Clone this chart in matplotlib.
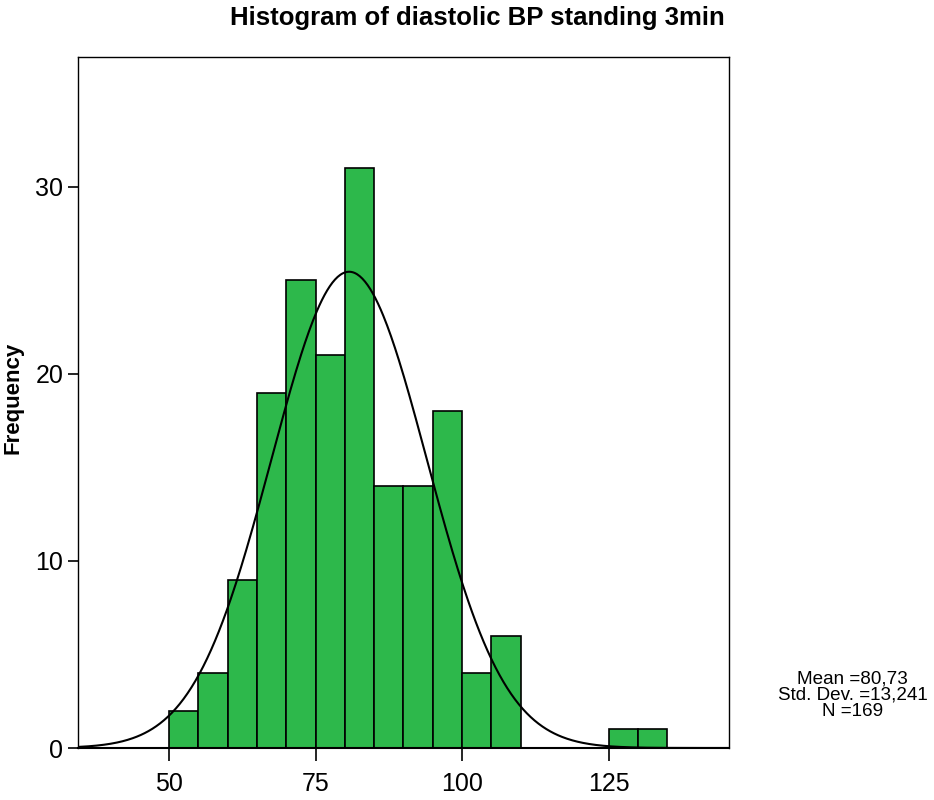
import numpy as np
import matplotlib
matplotlib.use("Agg")
import matplotlib.pyplot as plt

plt.rcParams['font.family'] = ['Liberation Sans', 'DejaVu Sans']

bin_edges = [50, 55, 60, 65, 70, 75, 80, 85, 90, 95, 100, 105, 110, 115, 120, 125, 130, 135]
counts = [2, 4, 9, 19, 25, 21, 31, 14, 14, 18, 4, 6, 0, 0, 0, 1, 1]
mean = 80.73
std = 13.241
n = 169
bin_width = 5
xticks = [50, 75, 100, 125]
yticks = [0, 10, 20, 30]

fig = plt.figure(figsize=(9.34, 8), dpi=100)
ax = fig.add_axes([0.0835, 0.065, 0.697, 0.864])

left = np.array(bin_edges[:-1])
heights = np.array(counts)
mask = heights > 0
ax.bar(left[mask], heights[mask], width=bin_width, align='edge',
       color='#2db84b', edgecolor='black', linewidth=1.2, zorder=2)

# normal curve scaled to counts
xs = np.linspace(34.5, 145.5, 500)
ys = n * bin_width / (std * np.sqrt(2 * np.pi)) * np.exp(-0.5 * ((xs - mean) / std) ** 2)
ax.plot(xs, ys, color='black', linewidth=1.5, zorder=3)

ax.set_xlim(34.5, 145.5)
ax.set_ylim(0, 36.95)
ax.set_xticks(xticks)
ax.set_yticks(yticks)
ax.tick_params(axis='x', direction='out', length=9, width=1.2, labelsize=18, pad=8)
ax.tick_params(axis='y', direction='out', length=7.5, width=1.2, labelsize=18, pad=3)
for s in ax.spines.values():
    s.set_linewidth(1)
ax.spines['bottom'].set_linewidth(1.5)

fig.text(0.014, 0.503, 'Frequency', rotation=90, ha='center', va='center',
         fontsize=16, fontweight='bold')
fig.text(0.511, 0.978, 'Histogram of diastolic BP standing 3min', ha='center', va='center',
         fontsize=18.5, fontweight='bold')

fig.text(0.913, 0.131, 'Mean =80,73\nStd. Dev. =13,241\nN =169', ha='center', va='center',
         fontsize=13.6, linespacing=0.95)

fig.savefig('out.png', dpi=100)
